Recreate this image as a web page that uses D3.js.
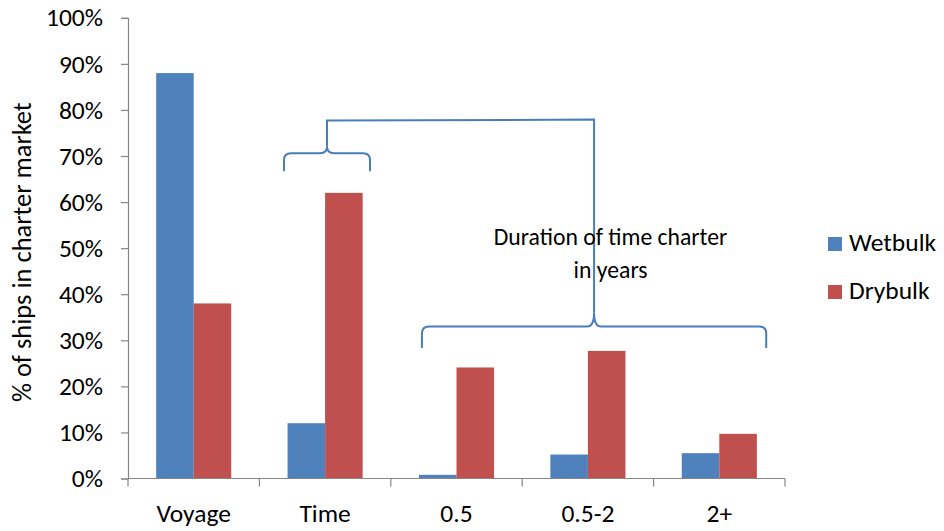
<!DOCTYPE html>
<html>
<head>
<meta charset="utf-8">
<script src="https://cdn.jsdelivr.net/npm/d3@7"></script>
<style>
  html, body { margin: 0; padding: 0; background: #fff; }
  svg { display: block; }
  text { font-family: Carlito, Lato, "Open Sans", sans-serif; fill: #000; }
</style>
</head>
<body>
<svg id="chart" width="944" height="531"></svg>
<script>
// Charter type categories and share of ships per series
const categories = ["Voyage", "Time", "0.5", "0.5-2", "2+"];
const seriesNames = ["Wetbulk", "Drybulk"];
const wetbulk = [0.88, 0.12, 0.008, 0.052, 0.055];
const drybulk = [0.38, 0.62, 0.241, 0.277, 0.097];
const yTicks = [0, 0.1, 0.2, 0.3, 0.4, 0.5, 0.6, 0.7, 0.8, 0.9, 1.0];
const colors = ["#4F81BD", "#C0504D"];
const yTitle = "% of ships in charter market";
const noteLines = ["Duration of time charter", "in years"];

const svg = d3.select("#chart");
const plot = { left: 128, right: 785, top: 17.8, bottom: 478.5 };

const x = d3.scaleBand().domain(categories).range([plot.left, plot.right]).padding(0);
const xSub = d3.scaleBand().domain(seriesNames).range([0, x.bandwidth()])
  .paddingInner(0).paddingOuter(0.75);
const y = d3.scaleLinear().domain([0, 1]).range([plot.bottom, plot.top]);

const rows = categories.map((c, i) => ({ cat: c, values: [wetbulk[i], drybulk[i]] }));

// bars
const groups = svg.append("g").selectAll("g").data(rows).join("g")
  .attr("transform", d => `translate(${x(d.cat)},0)`);
groups.selectAll("rect")
  .data(d => d.values.map((v, k) => ({ name: seriesNames[k], v, k })))
  .join("rect")
  .attr("x", d => xSub(d.name))
  .attr("width", xSub.bandwidth())
  .attr("y", d => y(d.v))
  .attr("height", d => y(0) - y(d.v))
  .attr("fill", d => colors[d.k]);

// y axis
const axisColor = "#868686";
const yAxis = svg.append("g")
  .attr("transform", `translate(${plot.left},0)`)
  .call(d3.axisLeft(y).tickValues(yTicks).tickFormat(d3.format(".0%"))
    .tickSize(7).tickPadding(18));
yAxis.select(".domain").attr("stroke", axisColor).attr("stroke-width", 1.2);
yAxis.selectAll(".tick line").attr("stroke", axisColor).attr("stroke-width", 1.2);
yAxis.selectAll(".tick text").attr("font-size", 25.5).attr("font-family", null).attr("fill", "#000");

// x axis: baseline with ticks between categories
const xAxis = svg.append("g");
xAxis.append("line")
  .attr("x1", plot.left).attr("x2", plot.right)
  .attr("y1", y(0)).attr("y2", y(0))
  .attr("stroke", axisColor).attr("stroke-width", 1.2);
const edges = categories.map(c => x(c)).concat([plot.right]);
xAxis.selectAll("line.tick").data(edges).join("line").attr("class", "tick")
  .attr("x1", d => d).attr("x2", d => d)
  .attr("y1", y(0)).attr("y2", y(0) + 8)
  .attr("stroke", axisColor).attr("stroke-width", 1.2);
xAxis.selectAll("text").data(categories).join("text")
  .attr("x", d => x(d) + x.bandwidth() / 2)
  .attr("y", y(0) + 43)
  .attr("text-anchor", "middle")
  .attr("font-size", 25.5)
  .text(d => d);

// y axis title
svg.append("text")
  .attr("transform", `translate(31,${(plot.top + plot.bottom) / 2 + 4}) rotate(-90)`)
  .attr("text-anchor", "middle")
  .attr("font-size", 26.5)
  .text(yTitle);

// legend
const legend = svg.append("g").attr("transform", "translate(828,237)");
seriesNames.forEach((name, k) => {
  const g = legend.append("g").attr("transform", `translate(0,${k * 48})`);
  g.append("rect").attr("width", 14).attr("height", 14).attr("fill", colors[k]);
  g.append("text").attr("x", 21).attr("y", 14).attr("font-size", 25.5).text(name);
});

// curly brace opening downward
function brace(x0, x1, yEnd, yArm, yTip) {
  const xm = (x0 + x1) / 2, r = 7;
  const p = d3.path();
  p.moveTo(x0, yEnd);
  p.lineTo(x0, yArm + r);
  p.quadraticCurveTo(x0, yArm, x0 + r, yArm);
  p.lineTo(xm - r, yArm);
  p.quadraticCurveTo(xm, yArm, xm, yTip);
  p.quadraticCurveTo(xm, yArm, xm + r, yArm);
  p.lineTo(x1 - r, yArm);
  p.quadraticCurveTo(x1, yArm, x1, yArm + r);
  p.lineTo(x1, yEnd);
  return p.toString();
}

const bw = x.bandwidth();
const braceColor = "#4A7EBB";
const ann = svg.append("g").attr("fill", "none").attr("stroke", braceColor)
  .attr("stroke-width", 2);

// brace over the time charter pair
const topL = x("Time") + 0.187 * bw, topR = x("Time") + 0.842 * bw;
ann.append("path").attr("d", brace(topL, topR, y(0.667), y(0.706), y(0.72)));
// brace over the duration groups
const botL = x("0.5") + 0.237 * bw, botR = x("2+") + 0.857 * bw;
ann.append("path").attr("d", brace(botL, botR, y(0.283), y(0.33), y(0.36)));
// connector between the two braces
const topMid = (topL + topR) / 2, botMid = (botL + botR) / 2;
ann.append("path").attr("d", d3.line()([
  [topMid, y(0.72)], [topMid, y(0.777)], [botMid, y(0.779)], [botMid, y(0.36)]
]));

// note text
const note = svg.append("text").attr("text-anchor", "middle").attr("font-size", 23.7);
noteLines.forEach((t, i) => {
  note.append("tspan").attr("x", botMid + 16.5).attr("y", 245 + i * 33).text(t);
});
</script>
</body>
</html>
